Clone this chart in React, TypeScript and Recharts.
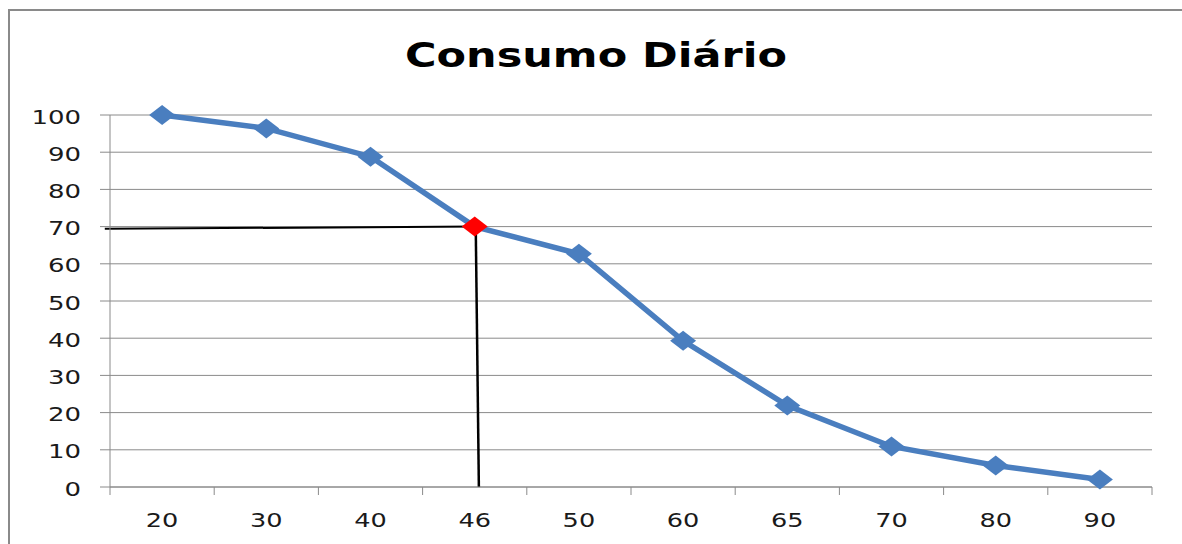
import { LineChart, Line, XAxis, YAxis, CartesianGrid, ReferenceLine } from 'recharts';

const categories = ['20', '30', '40', '46', '50', '60', '65', '70', '80', '90'];
const consumo = [100, 96.4, 88.8, 70, 62.7, 39.3, 21.9, 10.9, 5.8, 2];
const yTicks = [0, 10, 20, 30, 40, 50, 60, 70, 80, 90, 100];
const highlighted = '46';

const data = categories.map((label, idx) => ({ idx, label, consumo: consumo[idx] }));
const hlIdx = categories.indexOf(highlighted);
const hlValue = consumo[hlIdx];

const CHART_W = 1172;
const CHART_H = 533;
const Y_AXIS_W = 60;
const margin = { top: 104, right: 30, bottom: 17, left: 40 };
const plotW = CHART_W - margin.left - margin.right - Y_AXIS_W;
const halfStep = plotW / categories.length / 2;

const GRID = '#8a8a8a';
const BLUE = '#4a7ebf';
const FONT = '"DejaVu Sans", sans-serif';

const XTick = ({ x, y, payload, index }: any) => {
  const axisY = y - 8;
  return (
    <g>
      <line x1={x - halfStep} x2={x - halfStep} y1={axisY} y2={axisY + 8} stroke={GRID} />
      {index === categories.length - 1 && (
        <line x1={x + halfStep} x2={x + halfStep} y1={axisY} y2={axisY + 8} stroke={GRID} />
      )}
      <text
        transform={`translate(${x} ${y + 32}) scale(1.28 1)`}
        textAnchor="middle"
        fontSize={20}
        fontFamily={FONT}
        fill="#1a1a1a"
      >
        {categories[payload.value]}
      </text>
    </g>
  );
};

const YTick = ({ x, y, payload }: any) => (
  <text
    transform={`translate(${x} ${y + 8.5}) scale(1.3 1)`}
    textAnchor="end"
    fontSize={20}
    fontFamily={FONT}
    fill="#1a1a1a"
  >
    {payload.value}
  </text>
);

// diamond markers, the highlighted category in red
const renderDot = ({ cx, cy, payload, index }: any) => {
  const w = 13;
  const h = 10;
  const fill = payload.label === highlighted ? '#ff0000' : BLUE;
  return (
    <polygon
      key={`dot-${index}`}
      points={`${cx - w},${cy} ${cx},${cy - h} ${cx + w},${cy} ${cx},${cy + h}`}
      fill={fill}
    />
  );
};

export default function App() {
  return (
    // fixed frame: only its left and top edges sit inside the window
    <div
      style={{
        position: 'fixed',
        left: 8,
        top: 9,
        right: 0,
        bottom: 0,
        overflow: 'hidden',
      }}
    >
      <div
        style={{
          width: CHART_W,
          height: CHART_H,
          border: `2px solid ${GRID}`,
          background: '#fff',
          fontFamily: FONT,
        }}
      >
        <LineChart width={CHART_W} height={CHART_H} data={data} margin={margin}>
          <text
            x={586}
            y={56}
            textAnchor="middle"
            fontSize={34}
            fontWeight="bold"
            fontFamily={FONT}
            textLength={382}
            lengthAdjust="spacingAndGlyphs"
            fill="#000"
          >
            Consumo Diário
          </text>
          <CartesianGrid vertical={false} stroke={GRID} />
          <XAxis
            type="number"
            dataKey="idx"
            domain={[-0.5, categories.length - 0.5]}
            ticks={categories.map((_, i) => i)}
            interval={0}
            tickLine={false}
            tickSize={8}
            tickMargin={0}
            height={40}
            axisLine={{ stroke: GRID }}
            tick={<XTick />}
          />
          <YAxis
            domain={[0, 100]}
            ticks={yTicks}
            interval={0}
            width={Y_AXIS_W}
            tickSize={10}
            tickMargin={19}
            tickLine={{ stroke: GRID }}
            axisLine={{ stroke: GRID }}
            tick={<YTick />}
          />
          <Line
            dataKey="consumo"
            stroke={BLUE}
            strokeWidth={5.5}
            dot={renderDot}
            activeDot={false}
            isAnimationActive={false}
          />
          {/* guide lines read off at the highlighted point */}
          <ReferenceLine
            segment={[{ x: -0.55, y: hlValue - 0.6 }, { x: hlIdx + 0.01, y: hlValue }]}
            stroke="#000"
            strokeWidth={2}
            ifOverflow="visible"
          />
          <ReferenceLine
            segment={[{ x: hlIdx + 0.01, y: hlValue }, { x: hlIdx + 0.04, y: 0 }]}
            stroke="#000"
            strokeWidth={2.5}
            ifOverflow="visible"
          />
        </LineChart>
      </div>
    </div>
  );
}
